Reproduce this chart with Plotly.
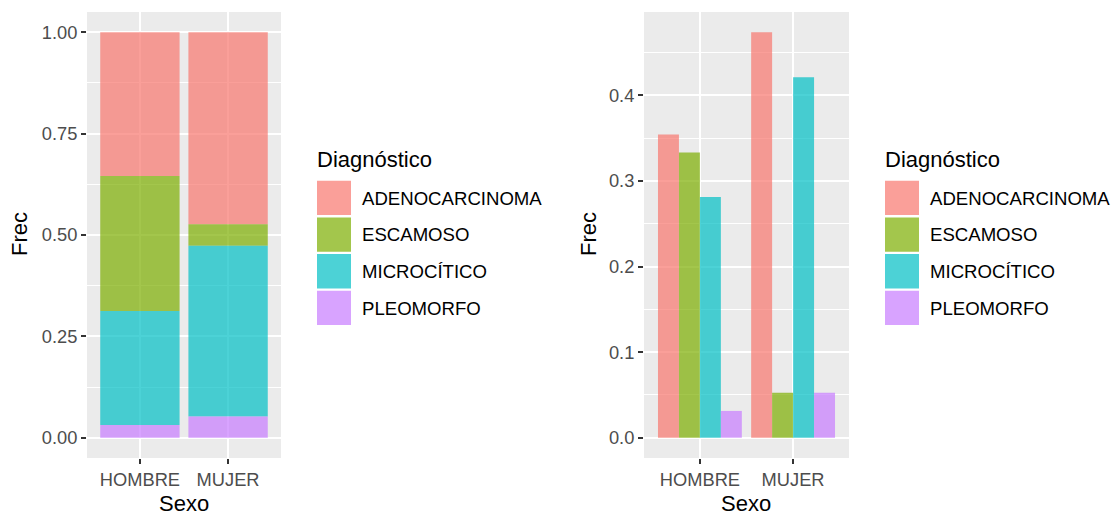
import numpy as np
import plotly.graph_objects as go

# ---- data -------------------------------------------------------------
sexo = ["HOMBRE", "MUJER"]
diagnosticos = ["ADENOCARCINOMA", "ESCAMOSO", "MICROCÍTICO", "PLEOMORFO"]
frec_hombre = [0.3542, 0.3333, 0.2812, 0.0313]
frec_mujer = [0.4737, 0.0526, 0.4211, 0.0526]
colores = ["#F8766D", "#7CAE00", "#00BFC4", "#C77CFF"]

y1_ticks = [0, 0.25, 0.5, 0.75, 1.0]
y1_labels = ["0.00", "0.25", "0.50", "0.75", "1.00"]
y2_ticks = [0, 0.1, 0.2, 0.3, 0.4]
y2_labels = ["0.0", "0.1", "0.2", "0.3", "0.4"]

# ---- helpers ----------------------------------------------------------
W, H = 1116, 516
FONT = "Liberation Sans, Arial, sans-serif"


def px(x):
    return x / W


def py(y):
    return 1 - y / H


def rgba(hex_color, a=0.7):
    h = hex_color.lstrip("#")
    r, g, b = int(h[0:2], 16), int(h[2:4], 16), int(h[4:6], 16)
    return f"rgba({r},{g},{b},{a})"


valores = np.array([frec_hombre, frec_mujer]).T  # rows: diagnostico, cols: sexo

fig = go.Figure()

# ---- left panel: stacked proportions ----------------------------------
n = len(diagnosticos)
for i, (d, c) in enumerate(zip(diagnosticos, colores)):
    base = valores[i + 1:].sum(axis=0) if i + 1 < n else np.zeros(len(sexo))
    fig.add_trace(go.Bar(
        x=sexo, y=valores[i], base=base, width=0.9,
        marker=dict(color=rgba(c), line=dict(width=0)),
        xaxis="x", yaxis="y", showlegend=False, name=d,
    ))

# ---- right panel: dodged bars -----------------------------------------
bw = 0.9 / n
for i, (d, c) in enumerate(zip(diagnosticos, colores)):
    fig.add_trace(go.Bar(
        x=sexo, y=valores[i], width=bw, offset=-0.45 + i * bw,
        marker=dict(color=rgba(c), line=dict(width=0)),
        xaxis="x2", yaxis="y2", showlegend=False, name=d,
    ))

tick_font = dict(family=FONT, size=18.3, color="#4D4D4D")
common_x = dict(
    type="category", range=[-0.6, 1.6], showgrid=True, gridcolor="white",
    gridwidth=1.6, ticks="outside", ticklen=5, tickwidth=1.5, tickcolor="#333333",
    tickfont=tick_font, zeroline=False, showline=False, automargin=False,
    fixedrange=True,
)
common_y = dict(
    showgrid=True, gridcolor="white", gridwidth=1.6, ticks="outside", ticklen=5,
    tickwidth=1.5, tickcolor="#333333", tickfont=tick_font, zeroline=False,
    showline=False, automargin=False, fixedrange=True,
)

fig.update_layout(
    width=W, height=H,
    margin=dict(l=0, r=0, t=0, b=0),
    paper_bgcolor="white",
    plot_bgcolor="#EBEBEB",
    barmode="overlay",
    showlegend=False,
    xaxis=dict(domain=[px(87), px(281)], anchor="y", **common_x),
    yaxis=dict(domain=[py(458), py(12)], anchor="x", range=[-0.05, 1.05],
               tickvals=y1_ticks, ticktext=y1_labels,
               minor=dict(tickvals=[0.125, 0.375, 0.625, 0.875], showgrid=True,
                          gridcolor="white", gridwidth=0.8, ticks=""),
               **common_y),
    xaxis2=dict(domain=[px(644), px(849)], anchor="y2", **common_x),
    yaxis2=dict(domain=[py(458), py(12)], anchor="x2",
                range=[-0.0237, 0.4974],
                tickvals=y2_ticks, ticktext=y2_labels,
                minor=dict(tickvals=[0.05, 0.15, 0.25, 0.35, 0.45], showgrid=True,
                           gridcolor="white", gridwidth=0.8, ticks=""),
                **common_y),
)

# ---- axis titles --------------------------------------------------------
title_font = dict(family=FONT, size=22, color="black")
annotations = []
for cx, cy_frec, cx_frec in [(184, 234, 20), (746, 234, 589)]:
    annotations.append(dict(text="Sexo", x=px(cx), y=py(503), xref="paper",
                            yref="paper", showarrow=False, xanchor="center",
                            yanchor="middle", font=title_font))
    annotations.append(dict(text="Frec", x=px(cx_frec), y=py(cy_frec),
                            xref="paper", yref="paper", showarrow=False,
                            textangle=-90, xanchor="center", yanchor="middle",
                            font=title_font))

# ---- legends (one per panel) ---------------------------------------------
shapes = []
key_font = dict(family=FONT, size=18.6, color="black")
for lx in (317, 885):
    annotations.append(dict(text="Diagnóstico", x=px(lx - 2), y=py(159),
                            xref="paper", yref="paper", showarrow=False,
                            xanchor="left", yanchor="middle", font=title_font))
    for i, (d, c) in enumerate(zip(diagnosticos, colores)):
        top = 180.7 + i * 36.7
        shapes.append(dict(type="rect", xref="paper", yref="paper",
                           x0=px(lx), x1=px(lx + 34), y0=py(top + 34.3), y1=py(top),
                           fillcolor=rgba(c), line=dict(width=0)))
        annotations.append(dict(text=d, x=px(lx + 43), y=py(top + 17.5),
                                xref="paper", yref="paper", showarrow=False,
                                xanchor="left", yanchor="middle", font=key_font))

fig.update_layout(annotations=annotations, shapes=shapes)

fig.write_html("out.html")
